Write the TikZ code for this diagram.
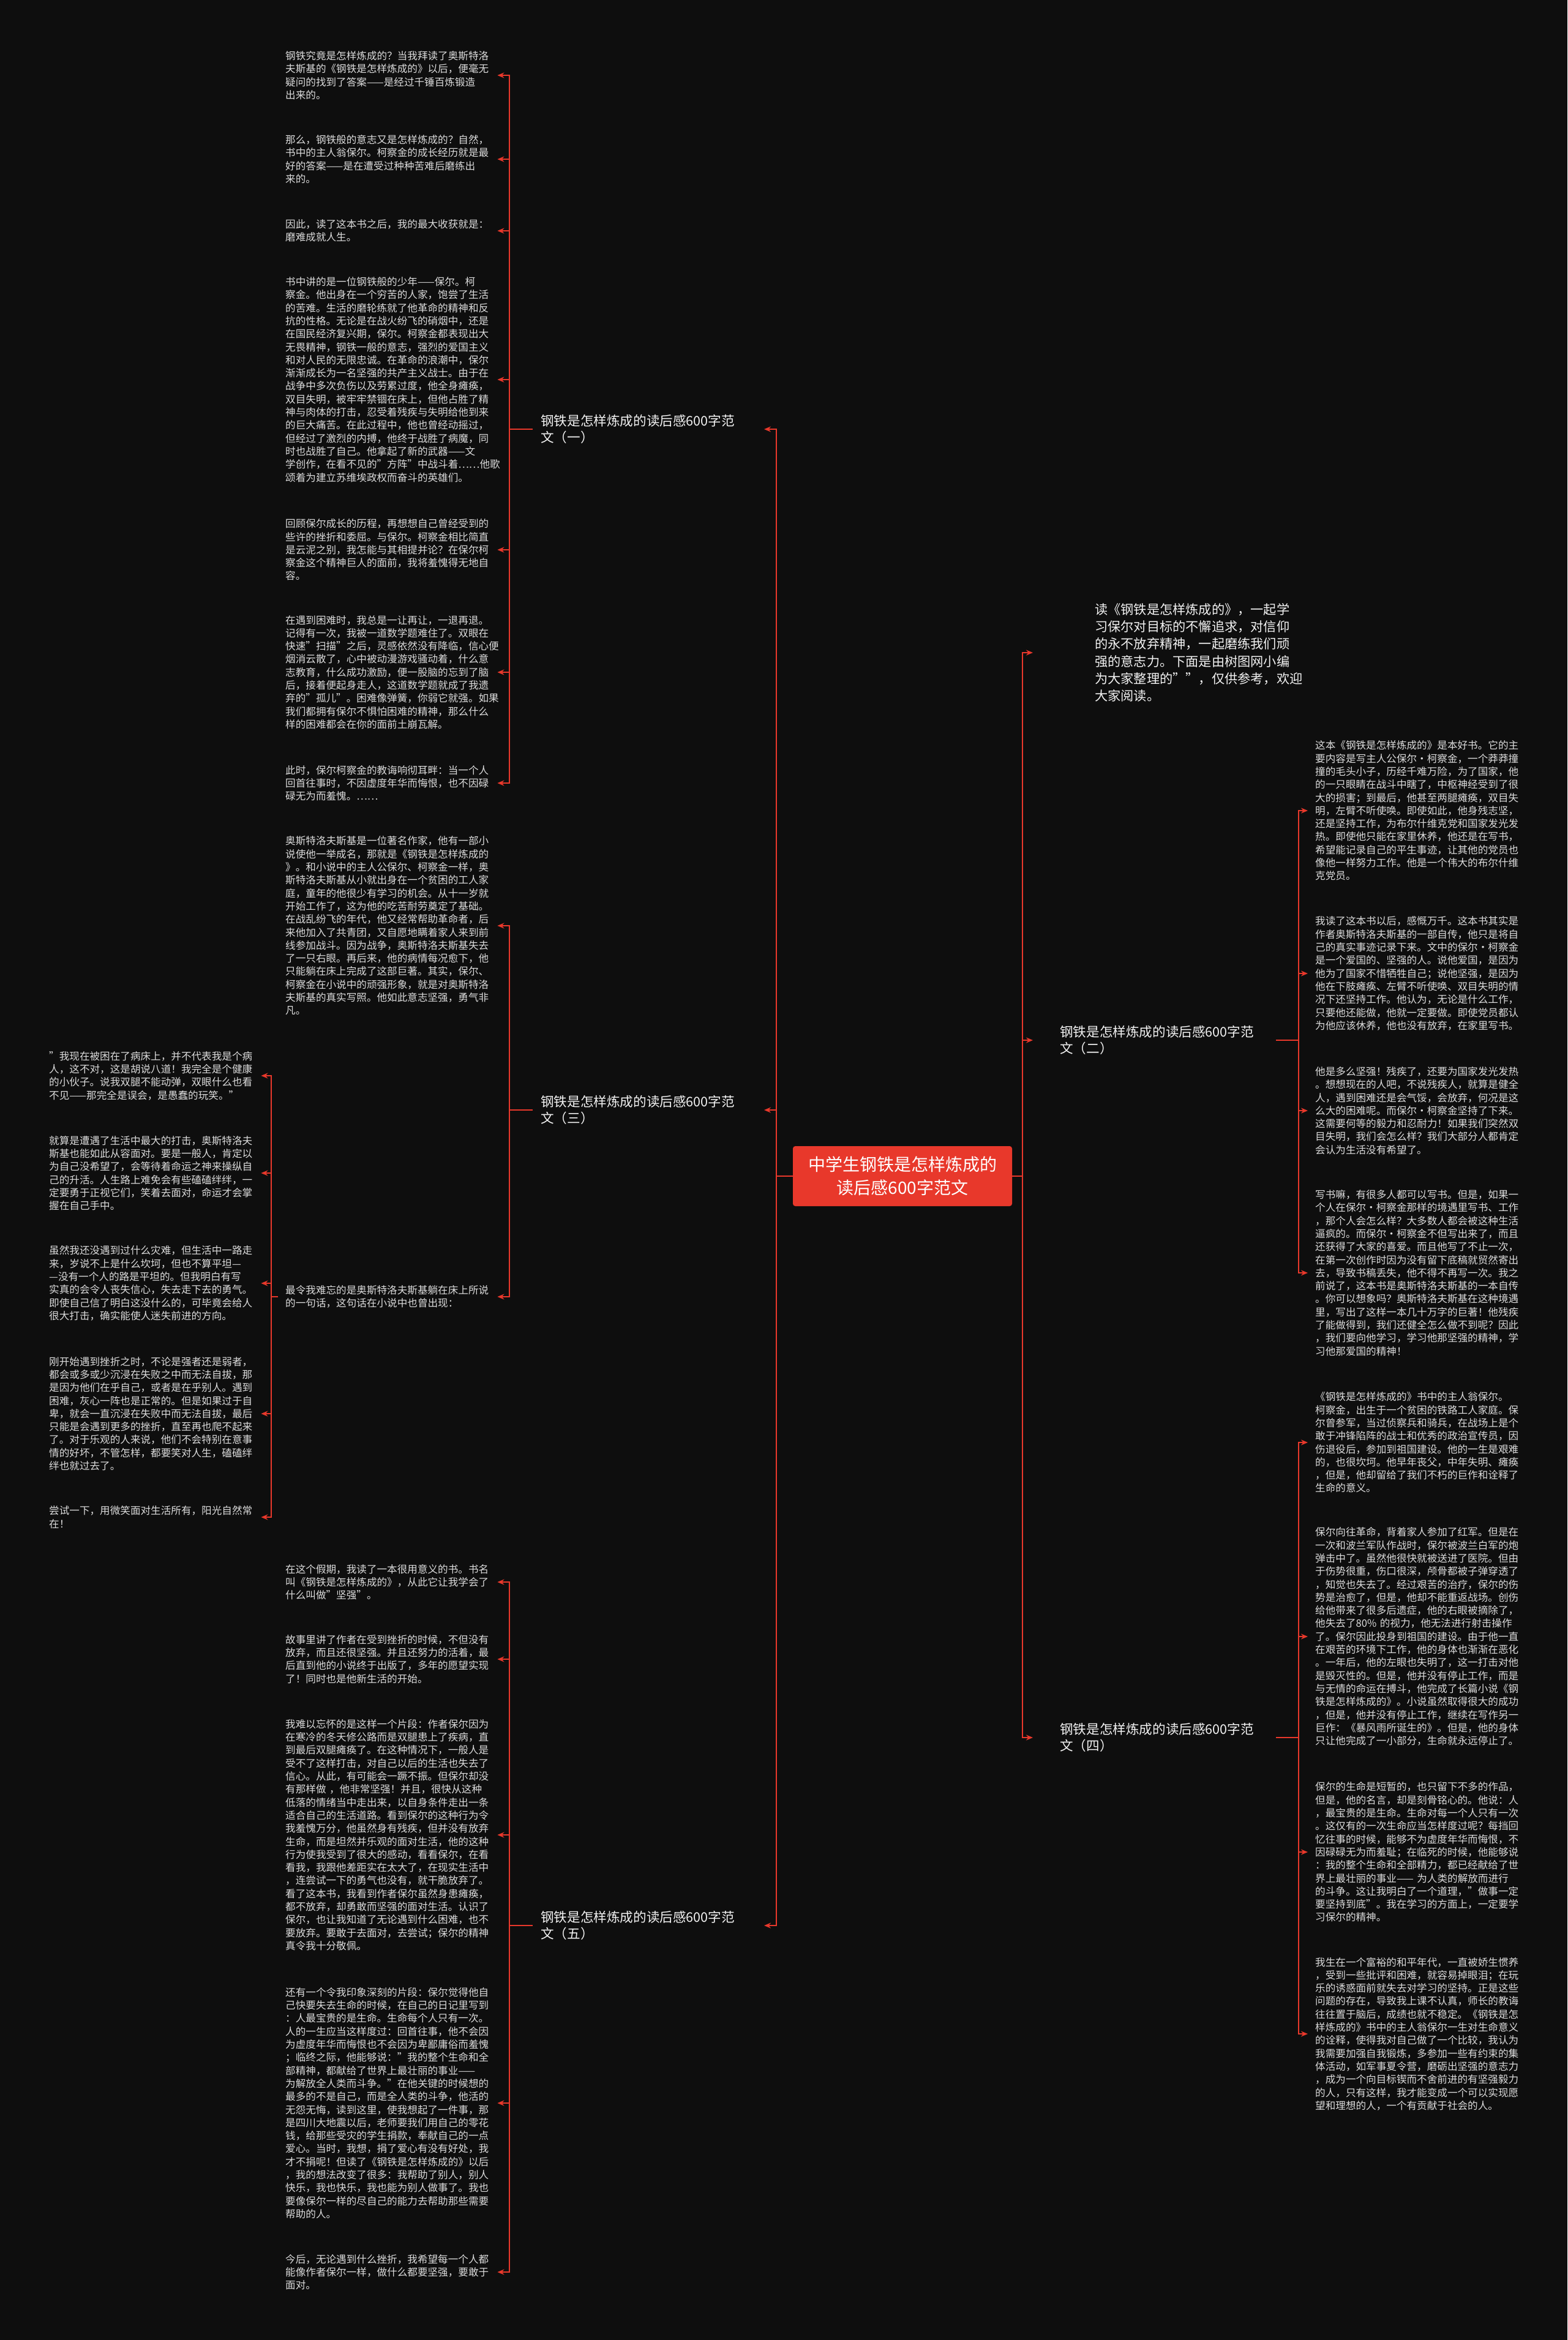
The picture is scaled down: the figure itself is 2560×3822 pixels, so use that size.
\documentclass[tikz,border=0pt]{standalone}
\usepackage{fontspec}
\setmainfont{Noto Sans CJK SC}
\usetikzlibrary{arrows.meta}
\definecolor{mapBg}{HTML}{0E0E0E}
\definecolor{mapRed}{HTML}{E8382B}
\definecolor{mapText}{HTML}{DCDCDC}
\definecolor{mapWhite}{HTML}{F2F2F2}

\begin{document}
\begin{tikzpicture}[x=1pt, y=-1pt,
      root/.style={rounded corners=4pt, fill=mapRed, text=white, align=center,
                   font=\fontsize{28pt}{38pt}\selectfont, minimum width=358pt,
                   minimum height=98pt, inner sep=0pt},
      branch/.style={anchor=west, align=left, text=mapWhite, text width=340pt,
                     inner xsep=13pt, inner ysep=2pt,
                     font=\fontsize{21.6pt}{27pt}\selectfont},
      intro/.style={anchor=west, align=left, text=mapWhite, text width=330pt,
                    inner xsep=13pt, inner ysep=2pt,
                    font=\fontsize{21.2pt}{28.3pt}\selectfont},
      leaf/.style={anchor=west, align=left, text=mapText, text width=334pt,
                   inner xsep=12pt, inner ysep=2pt,
                   font=\fontsize{16.6pt}{21.3pt}\selectfont},
      link/.style={draw=mapRed, line width=2.4pt, -{Stealth[length=11pt,width=9pt]}}]
    \fill[mapBg] (0,0) rectangle (2560,3822);
    % bus columns
    \coordinate (busL) at (1268,0);
    \coordinate (tipL) at (1248,0);
    \coordinate (busR) at (1670,0);
    \coordinate (tipR) at (1687,0);
    \coordinate (busA) at (832,0);
    \coordinate (busS) at (443,0);
    \coordinate (busB) at (2121,0);

    \node[root] (root) at (1474,1921) {中学生钢铁是怎样炼成的\\读后感600字范文};

    \node[branch] (b1) at (870,701)  {钢铁是怎样炼成的读后感600字范\\文（一）};
    \node[branch] (b3) at (870,1813) {钢铁是怎样炼成的读后感600字范\\文（三）};
    \node[branch] (b5) at (870,3145) {钢铁是怎样炼成的读后感600字范\\文（五）};
    \node[intro]  (intro) at (1775,1066) {读《钢铁是怎样炼成的》，一起学\\习保尔对目标的不懈追求，对信仰\\的永不放弃精神，一起磨练我们顽\\强的意志力。下面是由树图网小编\\为大家整理的""，仅供参考，欢迎\\大家阅读。};
    \node[branch] (b2) at (1718,1699) {钢铁是怎样炼成的读后感600字范\\文（二）};
    \node[branch] (b4) at (1718,2838) {钢铁是怎样炼成的读后感600字范\\文（四）};

    % (一)
    \node[leaf] (b1a) at (454,123) {钢铁究竟是怎样炼成的？当我拜读了奥斯特洛\\夫斯基的《钢铁是怎样炼成的》以后，便毫无\\疑问的找到了答案——是经过千锤百炼锻造\\出来的。};
    \node[leaf] (b1b) at (454,260) {那么，钢铁般的意志又是怎样炼成的？自然，\\书中的主人翁保尔。柯察金的成长经历就是最\\好的答案——是在遭受过种种苦难后磨练出\\来的。};
    \node[leaf] (b1c) at (454,377) {因此，读了这本书之后，我的最大收获就是：\\磨难成就人生。};
    \node[leaf] (b1d) at (454,620) {书中讲的是一位钢铁般的少年——保尔。柯\\察金。他出身在一个穷苦的人家，饱尝了生活\\的苦难。生活的磨轮练就了他革命的精神和反\\抗的性格。无论是在战火纷飞的硝烟中，还是\\在国民经济复兴期，保尔。柯察金都表现出大\\无畏精神，钢铁一般的意志，强烈的爱国主义\\和对人民的无限忠诚。在革命的浪潮中，保尔\\渐渐成长为一名坚强的共产主义战士。由于在\\战争中多次负伤以及劳累过度，他全身瘫痪，\\双目失明，被牢牢禁锢在床上，但他占胜了精\\神与肉体的打击，忍受着残疾与失明给他到来\\的巨大痛苦。在此过程中，他也曾经动摇过，\\但经过了激烈的内搏，他终于战胜了病魔，同\\时也战胜了自己。他拿起了新的武器——文\\学创作，在看不见的"方阵"中战斗着……他歌\\颂着为建立苏维埃政权而奋斗的英雄们。};
    \node[leaf] (b1e) at (454,898) {回顾保尔成长的历程，再想想自己曾经受到的\\些许的挫折和委屈。与保尔。柯察金相比简直\\是云泥之别，我怎能与其相提并论？在保尔柯\\察金这个精神巨人的面前，我将羞愧得无地自\\容。};
    \node[leaf] (b1f) at (454,1098) {在遇到困难时，我总是一让再让，一退再退。\\记得有一次，我被一道数学题难住了。双眼在\\快速"扫描"之后，灵感依然没有降临，信心便\\烟消云散了，心中被动漫游戏骚动着，什么意\\志教育，什么成功激励，便一股脑的忘到了脑\\后，接着便起身走人，这道数学题就成了我遗\\弃的"孤儿"。困难像弹簧，你弱它就强。如果\\我们都拥有保尔不惧怕困难的精神，那么什么\\样的困难都会在你的面前土崩瓦解。};
    \node[leaf] (b1g) at (454,1279) {此时，保尔柯察金的教诲响彻耳畔：当一个人\\回首往事时，不因虚度年华而悔恨，也不因碌\\碌无为而羞愧。……};

    % (三)
    \node[leaf] (b3a) at (454,1512) {奥斯特洛夫斯基是一位著名作家，他有一部小\\说使他一举成名，那就是《钢铁是怎样炼成的\\》。和小说中的主人公保尔、柯察金一样，奥\\斯特洛夫斯基从小就出身在一个贫困的工人家\\庭，童年的他很少有学习的机会。从十一岁就\\开始工作了，这为他的吃苦耐劳奠定了基础。\\在战乱纷飞的年代，他又经常帮助革命者，后\\来他加入了共青团，又自愿地瞒着家人来到前\\线参加战斗。因为战争，奥斯特洛夫斯基失去\\了一只右眼。再后来，他的病情每况愈下，他\\只能躺在床上完成了这部巨著。其实，保尔、\\柯察金在小说中的顽强形象，就是对奥斯特洛\\夫斯基的真实写照。他如此意志坚强，勇气非\\凡。};
    \node[leaf] (b3b) at (454,2118) {最令我难忘的是奥斯特洛夫斯基躺在床上所说\\的一句话，这句话在小说中也曾出现：};
    \node[leaf] (s1) at (68,1757) {"我现在被困在了病床上，并不代表我是个病\\人，这不对，这是胡说八道！我完全是个健康\\的小伙子。说我双腿不能动弹，双眼什么也看\\不见——那完全是误会，是愚蠢的玩笑。"};
    \node[leaf] (s2) at (68,1916) {就算是遭遇了生活中最大的打击，奥斯特洛夫\\斯基也能如此从容面对。要是一般人，肯定以\\为自己没希望了，会等待着命运之神来操纵自\\己的升活。人生路上难免会有些磕磕绊绊，一\\定要勇于正视它们，笑着去面对，命运才会掌\\握在自己手中。};
    \node[leaf] (s3) at (68,2096) {虽然我还没遇到过什么灾难，但生活中一路走\\来，岁说不上是什么坎坷，但也不算平坦—\\—没有一个人的路是平坦的。但我明白有写\\实真的会令人丧失信心，失去走下去的勇气。\\即使自己信了明白这没什么的，可毕竟会给人\\很大打击，确实能使人迷失前进的方向。};
    \node[leaf] (s4) at (68,2309) {刚开始遇到挫折之时，不论是强者还是弱者，\\都会或多或少沉浸在失败之中而无法自拔，那\\是因为他们在乎自己，或者是在乎别人。遇到\\困难，灰心一阵也是正常的。但是如果过于自\\卑，就会一直沉浸在失败中而无法自拔，最后\\只能是会遇到更多的挫折，直至再也爬不起来\\了。对于乐观的人来说，他们不会特别在意事\\情的好坏，不管怎样，都要笑对人生，磕磕绊\\绊也就过去了。};
    \node[leaf] (s5) at (68,2478) {尝试一下，用微笑面对生活所有，阳光自然常\\在！};

    % (五)
    \node[leaf] (b5a) at (454,2584) {在这个假期，我读了一本很用意义的书。书名\\叫《钢铁是怎样炼成的》，从此它让我学会了\\什么叫做"坚强"。};
    \node[leaf] (b5b) at (454,2710) {故事里讲了作者在受到挫折的时候，不但没有\\放弃，而且还很坚强。并且还努力的活着，最\\后直到他的小说终于出版了，多年的愿望实现\\了！同时也是他新生活的开始。};
    \node[leaf] (b5c) at (454,2997) {我难以忘怀的是这样一个片段：作者保尔因为\\在寒冷的冬天修公路而是双腿患上了疾病，直\\到最后双腿瘫痪了。在这种情况下，一般人是\\受不了这样打击，对自己以后的生活也失去了\\信心。从此，有可能会一蹶不振。但保尔却没\\有那样做 ，他非常坚强！并且，很快从这种\\低落的情绪当中走出来，以自身条件走出一条\\适合自己的生活道路。看到保尔的这种行为令\\我羞愧万分，他虽然身有残疾，但并没有放弃\\生命，而是坦然并乐观的面对生活，他的这种\\行为使我受到了很大的感动，看看保尔，在看\\看我，我跟他差距实在太大了，在现实生活中\\，连尝试一下的勇气也没有，就干脆放弃了。\\看了这本书，我看到作者保尔虽然身患瘫痪，\\都不放弃，却勇敢而坚强的面对生活。认识了\\保尔，也让我知道了无论遇到什么困难，也不\\要放弃。要敢于去面对，去尝试；保尔的精神\\真令我十分敬佩。};
    \node[leaf] (b5d) at (454,3435) {还有一个令我印象深刻的片段：保尔觉得他自\\己快要失去生命的时候，在自己的日记里写到\\：人最宝贵的是生命。生命每个人只有一次。\\人的一生应当这样度过：回首往事，他不会因\\为虚度年华而悔恨也不会因为卑鄙庸俗而羞愧\\；临终之际，他能够说："我的整个生命和全\\部精神，都献给了世界上最壮丽的事业——\\为解放全人类而斗争。"在他关键的时候想的\\最多的不是自己，而是全人类的斗争，他活的\\无怨无悔，读到这里，使我想起了一件事，那\\是四川大地震以后，老师要我们用自己的零花\\钱，给那些受灾的学生捐款，奉献自己的一点\\爱心。当时，我想，捐了爱心有没有好处，我\\才不捐呢！但读了《钢铁是怎样炼成的》以后\\，我的想法改变了很多：我帮助了别人，别人\\快乐，我也快乐，我也能为别人做事了。我也\\要像保尔一样的尽自己的能力去帮助那些需要\\帮助的人。};
    \node[leaf] (b5e) at (454,3711) {今后，无论遇到什么挫折，我希望每一个人都\\能像作者保尔一样，做什么都要坚强，要敢于\\面对。};

    % (二)
    \node[leaf] (b2a) at (2136,1324) {这本《钢铁是怎样炼成的》是本好书。它的主\\要内容是写主人公保尔·柯察金，一个莽莽撞\\撞的毛头小子，历经千难万险，为了国家，他\\的一只眼睛在战斗中瞎了，中枢神经受到了很\\大的损害；到最后，他甚至两腿瘫痪，双目失\\明，左臂不听使唤。即使如此，他身残志坚，\\还是坚持工作，为布尔什维克党和国家发光发\\热。即使他只能在家里休养，他还是在写书，\\希望能记录自己的平生事迹，让其他的党员也\\像他一样努力工作。他是一个伟大的布尔什维\\克党员。};
    \node[leaf] (b2b) at (2136,1590) {我读了这本书以后，感慨万千。这本书其实是\\作者奥斯特洛夫斯基的一部自传，他只是将自\\己的真实事迹记录下来。文中的保尔·柯察金\\是一个爱国的、坚强的人。说他爱国，是因为\\他为了国家不惜牺牲自己；说他坚强，是因为\\他在下肢瘫痪、左臂不听使唤、双目失明的情\\况下还坚持工作。他认为，无论是什么工作，\\只要他还能做，他就一定要做。即使党员都认\\为他应该休养，他也没有放弃，在家里写书。};
    \node[leaf] (b2c) at (2136,1814) {他是多么坚强！残疾了，还要为国家发光发热\\。想想现在的人吧，不说残疾人，就算是健全\\人，遇到困难还是会气馁，会放弃，何况是这\\么大的困难呢。而保尔·柯察金坚持了下来。\\这需要何等的毅力和忍耐力！如果我们突然双\\目失明，我们会怎么样？我们大部分人都肯定\\会认为生活没有希望了。};
    \node[leaf] (b2d) at (2136,2079) {写书嘛，有很多人都可以写书。但是，如果一\\个人在保尔·柯察金那样的境遇里写书、工作\\，那个人会怎么样？大多数人都会被这种生活\\逼疯的。而保尔·柯察金不但写出来了，而且\\还获得了大家的喜爱。而且他写了不止一次，\\在第一次创作时因为没有留下底稿就贸然寄出\\去，导致书稿丢失，他不得不再写一次。我之\\前说了，这本书是奥斯特洛夫斯基的一本自传\\。你可以想象吗？奥斯特洛夫斯基在这种境遇\\里，写出了这样一本几十万字的巨著！他残疾\\了能做得到，我们还健全怎么做不到呢？因此\\，我们要向他学习，学习他那坚强的精神，学\\习他那爱国的精神！};

    % (四)
    \node[leaf] (b4a) at (2136,2356) {《钢铁是怎样炼成的》书中的主人翁保尔。\\柯察金，出生于一个贫困的铁路工人家庭。保\\尔曾参军，当过侦察兵和骑兵，在战场上是个\\敢于冲锋陷阵的战士和优秀的政治宣传员，因\\伤退役后，参加到祖国建设。他的一生是艰难\\的，也很坎坷。他早年丧父，中年失明、瘫痪\\，但是，他却留给了我们不朽的巨作和诠释了\\生命的意义。};
    \node[leaf] (b4b) at (2136,2673) {保尔向往革命，背着家人参加了红军。但是在\\一次和波兰军队作战时，保尔被波兰白军的炮\\弹击中了。虽然他很快就被送进了医院。但由\\于伤势很重，伤口很深，颅骨都被子弹穿透了\\，知觉也失去了。经过艰苦的治疗，保尔的伤\\势是治愈了，但是，他却不能重返战场。创伤\\给他带来了很多后遗症，他的右眼被摘除了，\\他失去了80\% 的视力，他无法进行射击操作\\了。保尔因此投身到祖国的建设。由于他一直\\在艰苦的环境下工作，他的身体也渐渐在恶化\\。一年后，他的左眼也失明了，这一打击对他\\是毁灭性的。但是，他并没有停止工作，而是\\与无情的命运在搏斗，他完成了长篇小说《钢\\铁是怎样炼成的》。小说虽然取得很大的成功\\，但是，他并没有停止工作，继续在写作另一\\巨作：《暴风雨所诞生的》。但是，他的身体\\只让他完成了一小部分，生命就永远停止了。};
    \node[leaf] (b4c) at (2136,3025) {保尔的生命是短暂的，也只留下不多的作品，\\但是，他的名言，却是刻骨铭心的。他说：人\\，最宝贵的是生命。生命对每一个人只有一次\\。这仅有的一次生命应当怎样度过呢？每挡回\\忆往事的时候，能够不为虚度年华而悔恨，不\\因碌碌无为而羞耻；在临死的时候，他能够说\\：我的整个生命和全部精力，都已经献给了世\\界上最壮丽的事业—— 为人类的解放而进行\\的斗争。这让我明白了一个道理，"做事一定\\要坚持到底"。我在学习的方面上，一定要学\\习保尔的精神。};
    \node[leaf] (b4d) at (2136,3322) {我生在一个富裕的和平年代，一直被娇生惯养\\，受到一些批评和困难，就容易掉眼泪；在玩\\乐的诱惑面前就失去对学习的坚持。正是这些\\问题的存在，导致我上课不认真，师长的教诲\\往往置于脑后，成绩也就不稳定。《钢铁是怎\\样炼成的》书中的主人翁保尔一生对生命意义\\的诠释，使得我对自己做了一个比较，我认为\\我需要加强自我锻炼，多参加一些有约束的集\\体活动，如军事夏令营，磨砺出坚强的意志力\\，成为一个向目标锲而不舍前进的有坚强毅力\\的人，只有这样，我才能变成一个可以实现愿\\望和理想的人，一个有贡献于社会的人。};

    % connectors
    \foreach \b in {b1,b3,b5}
      \draw[link] (root.west) -- (root.west -| busL) |- (\b.east -| tipL);
    \foreach \b in {intro,b2,b4}
      \draw[link] (root.east) -- (root.east -| busR) |- (\b.west -| tipR);
    \foreach \l in {b1a,b1b,b1c,b1d,b1e,b1f,b1g}
      \draw[link] (b1.west) -- (b1.west -| busA) |- (\l.east);
    \foreach \l in {b3a,b3b}
      \draw[link] (b3.west) -- (b3.west -| busA) |- (\l.east);
    \foreach \l in {s1,s2,s3,s4,s5}
      \draw[link] (b3b.west) -- (b3b.west -| busS) |- (\l.east);
    \foreach \l in {b5a,b5b,b5c,b5d,b5e}
      \draw[link] (b5.west) -- (b5.west -| busA) |- (\l.east);
    \foreach \l in {b2a,b2b,b2c,b2d}
      \draw[link] (b2.east) -- (b2.east -| busB) |- (\l.west);
    \foreach \l in {b4a,b4b,b4c,b4d}
      \draw[link] (b4.east) -- (b4.east -| busB) |- (\l.west);
  \end{tikzpicture}
\end{document}
